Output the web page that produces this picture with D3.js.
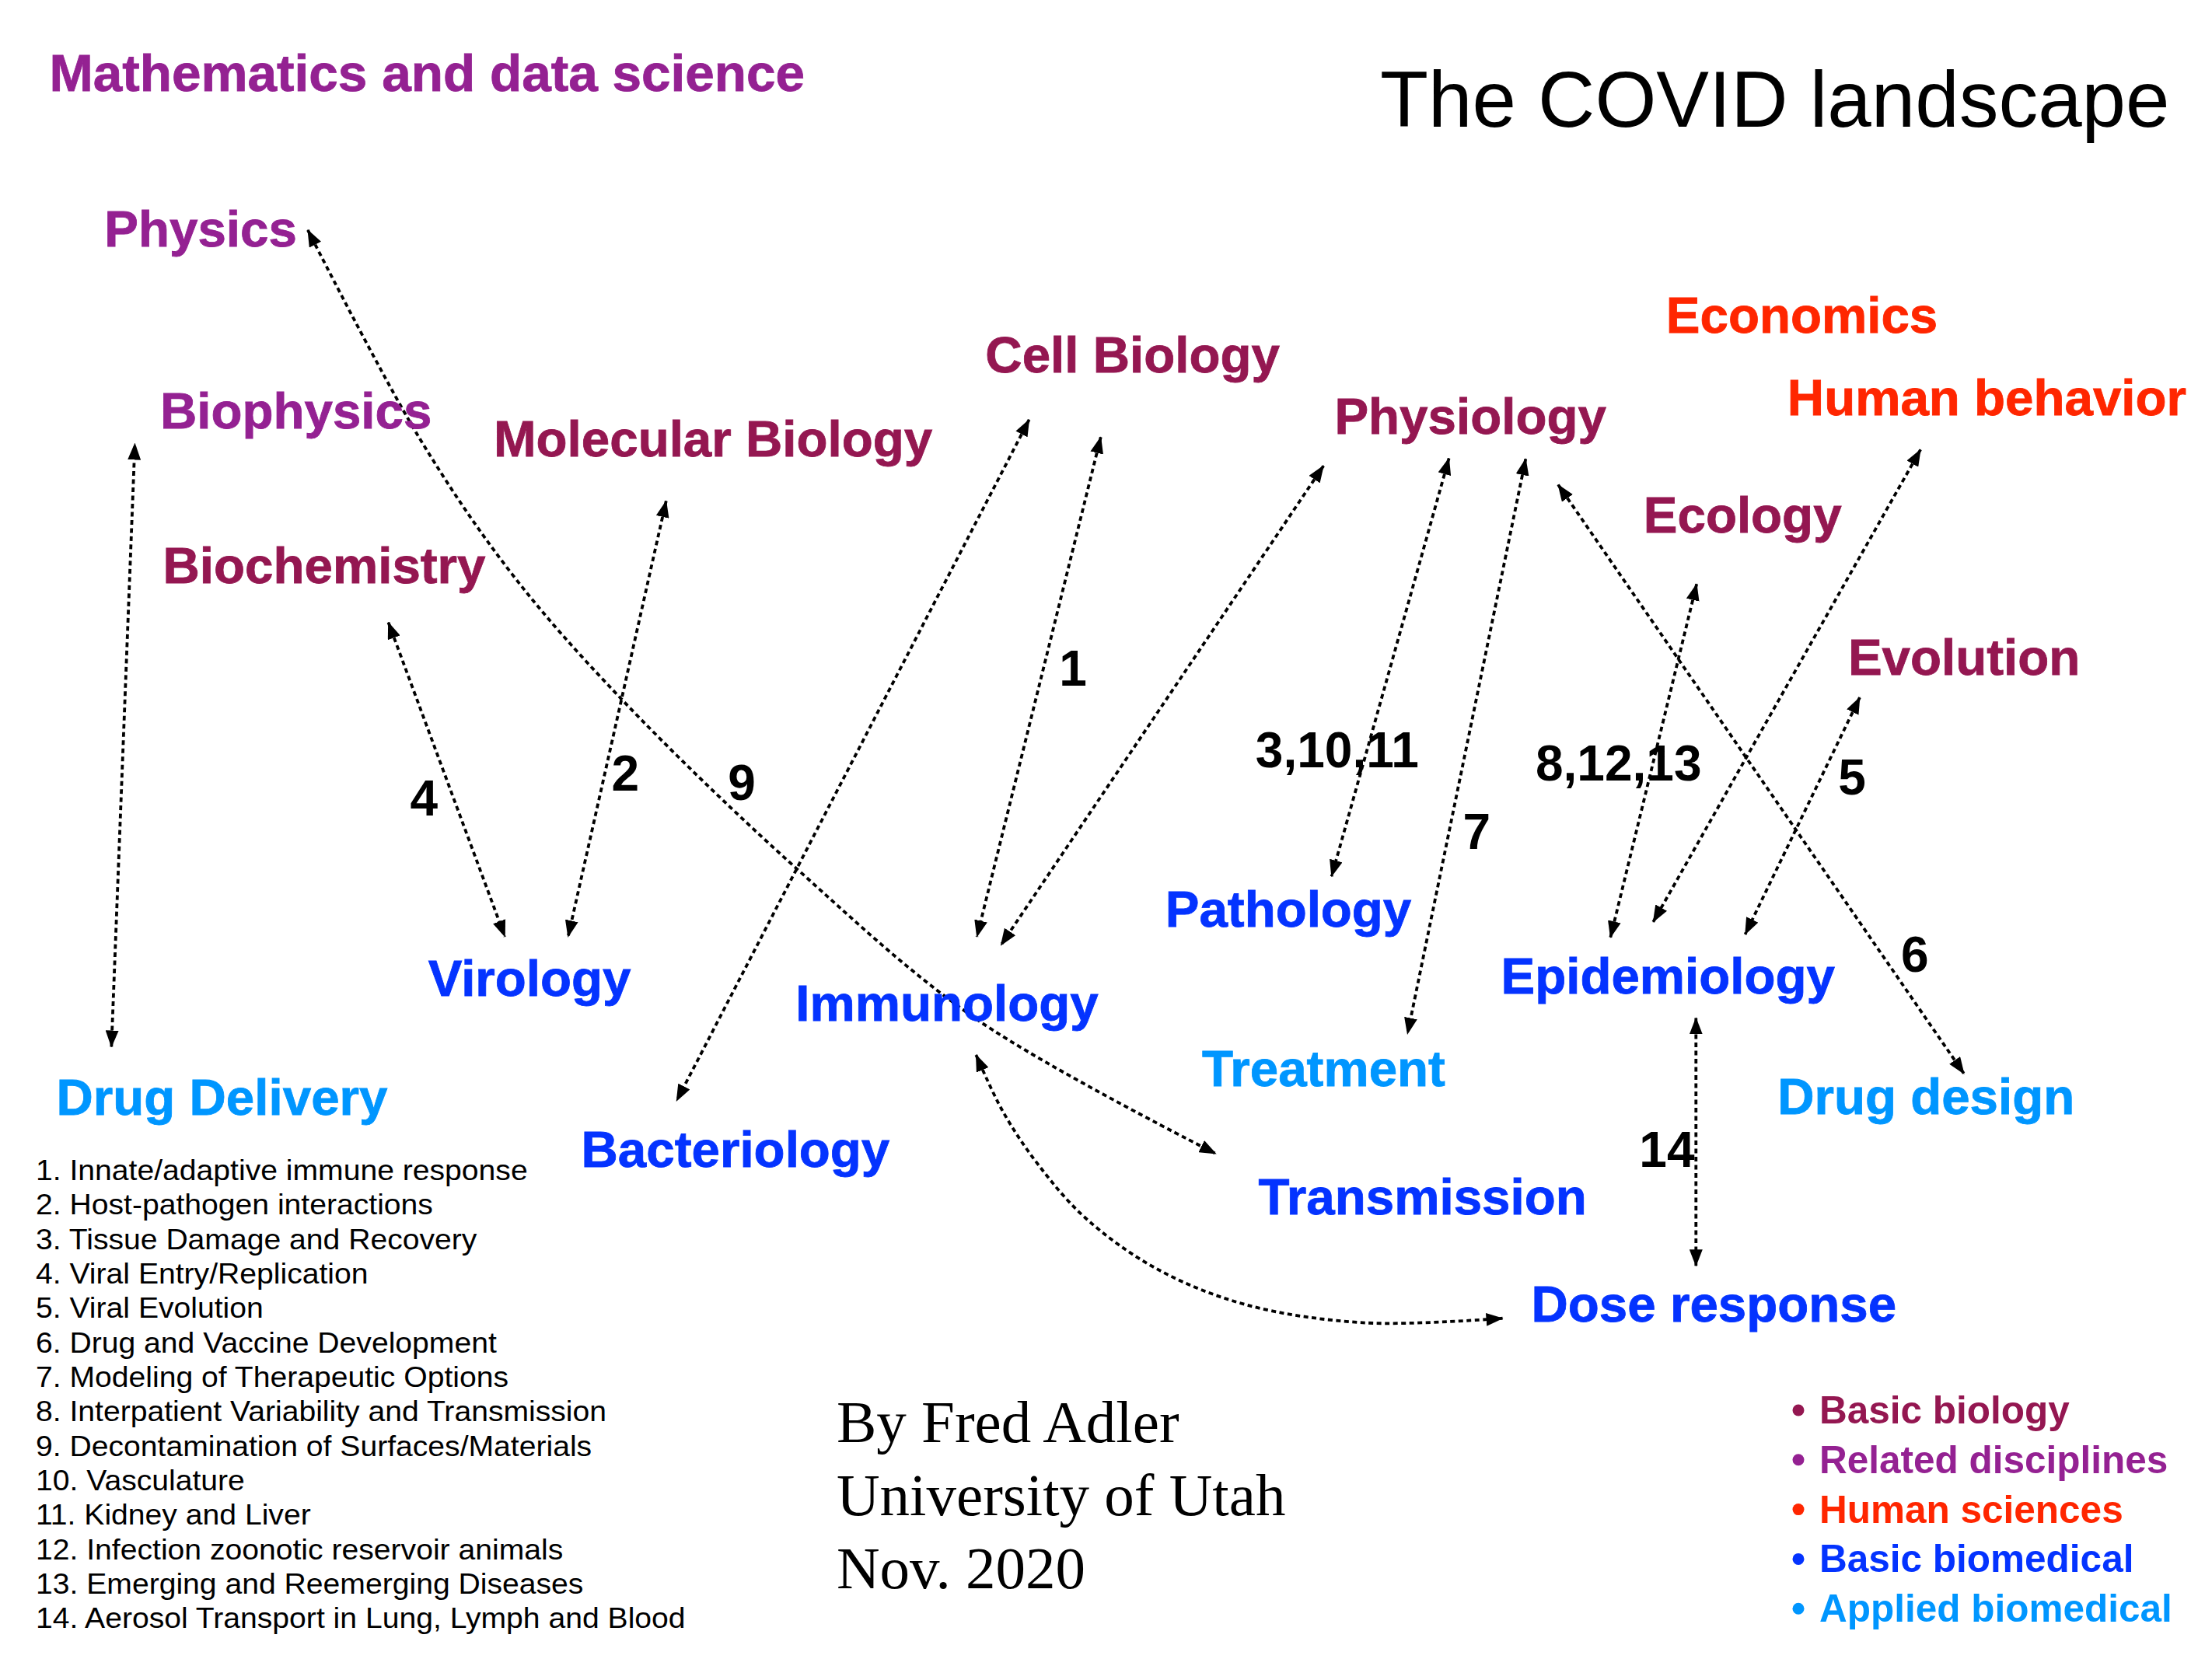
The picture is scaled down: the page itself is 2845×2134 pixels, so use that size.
<!DOCTYPE html>
<html>
<head>
<meta charset="utf-8">
<script src="https://cdn.jsdelivr.net/npm/d3@7"></script>
<style>
  html, body { margin: 0; padding: 0; background: #fff; }
  svg { display: block; }
</style>
</head>
<body>
<div id="chart"></div>
<script>
// groups / legend
const GROUPS = ["Basic biology", "Related disciplines", "Human sciences", "Basic biomedical", "Applied biomedical"];
const GROUP_COLORS = ["#941751", "#942192", "#FF2600", "#0433FF", "#0096FF"];

// topics: [name, group]
const TOPICS = [
  ["Mathematics and data science", "Related disciplines"],
  ["Physics", "Related disciplines"],
  ["Biophysics", "Related disciplines"],
  ["Biochemistry", "Basic biology"],
  ["Molecular Biology", "Basic biology"],
  ["Cell Biology", "Basic biology"],
  ["Physiology", "Basic biology"],
  ["Economics", "Human sciences"],
  ["Human behavior", "Human sciences"],
  ["Ecology", "Basic biology"],
  ["Evolution", "Basic biology"],
  ["Virology", "Basic biomedical"],
  ["Immunology", "Basic biomedical"],
  ["Pathology", "Basic biomedical"],
  ["Epidemiology", "Basic biomedical"],
  ["Treatment", "Applied biomedical"],
  ["Drug Delivery", "Applied biomedical"],
  ["Drug design", "Applied biomedical"],
  ["Bacteriology", "Basic biomedical"],
  ["Transmission", "Basic biomedical"],
  ["Dose response", "Basic biomedical"]
];

// where each topic sits on the map (layout units, left / baseline)
const TOPIC_XY = [
  [35, 64.3], [74, 174.5], [113.5, 303.7], [115.5, 413.4], [350, 323.5],
  [698.5, 264.2], [946, 307.7], [1181, 236.1], [1267, 294.3], [1165, 377.5],
  [1310, 478.6], [303.5, 705.7], [564, 723.3], [826, 657.1], [1064, 704.5],
  [852, 770], [40, 790], [1260, 789.7], [412, 827], [892, 860.7],
  [1085.5, 936.9]
];

// links: [from, to, label]
const LINKS = [
  ["Drug Delivery", "Biophysics", ""],
  ["Physics", "Transmission", "9"],
  ["Biochemistry", "Virology", "4"],
  ["Molecular Biology", "Virology", "2"],
  ["Cell Biology", "Bacteriology", ""],
  ["Cell Biology", "Immunology", "1"],
  ["Physiology", "Immunology", ""],
  ["Physiology", "Pathology", "3,10,11"],
  ["Physiology", "Treatment", "7"],
  ["Physiology", "Drug design", "6"],
  ["Ecology", "Epidemiology", "8,12,13"],
  ["Human behavior", "Epidemiology", ""],
  ["Evolution", "Epidemiology", "5"],
  ["Epidemiology", "Dose response", "14"],
  ["Immunology", "Dose response", ""]
];

// arrow routes for each link (layout units)
const LINK_ROUTES = [
  [[79, 742], [95.6, 314.4]],
  [[218.2, 163.1], [297, 310], [363, 407], [440, 495], [565, 616], [693, 723], [861.9, 817.8]],
  [[275.3, 441.2], [357.9, 664]],
  [[472.2, 355.1], [402.7, 664]],
  [[729.5, 297.5], [479.6, 780.4]],
  [[780.3, 309.8], [692.5, 664]],
  [[938.2, 330.2], [709.5, 670]],
  [[1027.1, 324.9], [943.9, 621.2]],
  [[1081.5, 325.3], [997.7, 733]],
  [[1104.5, 343.6], [1392.2, 761.1]],
  [[1202.7, 414], [1141.6, 664.5]],
  [[1361.4, 318.7], [1171.9, 653.5]],
  [[1318.3, 494.4], [1237.1, 662.3]],
  [[1202.2, 721.6], [1202.2, 897.3]],
  [[691.9, 747.8], [710.9, 787.9], [736.2, 825.9], [769.9, 863.8], [820.5, 899.7], [883.8, 925], [968.1, 937.7], [1065.1, 934.5]]
];

// link number label spots (left / baseline)
const LABEL_XY = [
  null, [516, 567], [290.7, 578.3], [433.5, 560.7], null, [750.8, 486], null,
  [890, 543.9], [1037, 601.9], [1347.5, 688.6], [1088.5, 553.3], null,
  [1303, 563.4], [1162, 827], null
];

const NOTES = [
  "1. Innate/adaptive immune response",
  "2. Host-pathogen interactions",
  "3. Tissue Damage and Recovery",
  "4. Viral Entry/Replication",
  "5. Viral Evolution",
  "6. Drug and Vaccine Development",
  "7. Modeling of Therapeutic Options",
  "8. Interpatient Variability and Transmission",
  "9. Decontamination of Surfaces/Materials",
  "10. Vasculature",
  "11. Kidney and Liver",
  "12. Infection zoonotic reservoir animals",
  "13. Emerging and Reemerging Diseases",
  "14. Aerosol Transport in Lung, Lymph and Blood"
];

const TITLE = "The COVID landscape";
const CREDITS = ["By Fred Adler", "University of Utah", "Nov. 2020"];

const width = 2845;
const height = 2134;

const x = d3.scaleLinear().domain([0, 1568]).range([0, width]);
const y = d3.scaleLinear().domain([0, 1176]).range([0, height]);
const color = d3.scaleOrdinal().domain(GROUPS).range(GROUP_COLORS);

const svg = d3.select("#chart").append("svg")
    .attr("width", width)
    .attr("height", height)
    .attr("viewBox", `0 0 ${width} ${height}`);

svg.append("rect").attr("width", width).attr("height", height).attr("fill", "#fff");

svg.append("defs").append("marker")
    .attr("id", "head")
    .attr("markerUnits", "userSpaceOnUse")
    .attr("viewBox", "0 0 22 17")
    .attr("markerWidth", 22)
    .attr("markerHeight", 17)
    .attr("refX", 21)
    .attr("refY", 8.5)
    .attr("orient", "auto-start-reverse")
    .append("path")
    .attr("d", "M0,0L22,8.5L0,17Z")
    .attr("fill", "#000");

// arrows
const line = d3.line()
    .x(d => x(d[0]))
    .y(d => y(d[1]))
    .curve(d3.curveCatmullRom.alpha(0.5));

svg.append("g").attr("class", "links")
  .selectAll("path")
  .data(LINKS.map((l, i) => ({ from: l[0], to: l[1], route: LINK_ROUTES[i] })))
  .join("path")
    .attr("d", d => line(d.route))
    .attr("fill", "none")
    .attr("stroke", "#000")
    .attr("stroke-width", 3.8)
    .attr("stroke-dasharray", "6,4.5")
    .attr("marker-start", "url(#head)")
    .attr("marker-end", "url(#head)");

// link numbers
svg.append("g").attr("class", "link-labels")
  .selectAll("text")
  .data(LINKS.map((l, i) => ({ text: l[2], pos: LABEL_XY[i] })).filter(d => d.text))
  .join("text")
    .attr("x", d => x(d.pos[0]))
    .attr("y", d => y(d.pos[1]))
    .style("font-family", "'Liberation Sans', Arial, Helvetica, sans-serif")
    .style("font-weight", "bold")
    .style("font-size", "64px")
    .attr("fill", "#000")
    .text(d => d.text);

// topics
svg.append("g").attr("class", "topics")
  .selectAll("text")
  .data(TOPICS.map((t, i) => ({ name: t[0], group: t[1], pos: TOPIC_XY[i] })))
  .join("text")
    .attr("x", d => x(d.pos[0]))
    .attr("y", d => y(d.pos[1]))
    .style("font-family", "'Liberation Sans', Arial, Helvetica, sans-serif")
    .style("font-weight", "bold")
    .style("font-size", d => d.name === "Mathematics and data science" ? "67.5px" : "65.5px")
    .attr("fill", d => color(d.group))
    .attr("stroke", d => color(d.group))
    .attr("stroke-width", 0.8)
    .text(d => d.name);

// title
svg.append("text")
    .attr("x", 1775)
    .attr("y", 163)
    .style("font-family", "'Liberation Sans', Arial, Helvetica, sans-serif")
    .style("font-size", "101.5px")
    .attr("fill", "#000")
    .text(TITLE);

// numbered notes
const notes = svg.append("g")
    .attr("class", "notes");

notes.selectAll("text")
  .data(NOTES)
  .join("text")
    .attr("x", 0)
    .attr("y", (d, i) => i * 44.33)
    .style("font-family", "'Liberation Sans', Arial, Helvetica, sans-serif")
    .style("font-size", "36px")
    .attr("fill", "#000")
    .text(d => d);

let widest = 0;
notes.selectAll("text").each(function() {
  widest = Math.max(widest, this.getComputedTextLength());
});
const kx = widest > 0 ? 836 / widest : 1;
notes.attr("transform", `translate(46, 1518) scale(${kx}, 1)`);

// credits
svg.append("g").attr("class", "credits")
  .selectAll("text")
  .data(CREDITS)
  .join("text")
    .attr("x", 1076)
    .attr("y", (d, i) => 1855 + i * 94)
    .style("font-family", "'Liberation Serif', 'Times New Roman', serif")
    .style("font-size", "77px")
    .attr("fill", "#000")
    .text(d => d);

// legend
const legend = svg.append("g")
    .attr("class", "legend")
    .attr("transform", "translate(2313, 1831)");

const item = legend.selectAll("g")
  .data(GROUPS)
  .join("g")
    .attr("transform", (d, i) => `translate(0, ${i * 63.8})`);

item.append("circle")
    .attr("cx", 0)
    .attr("cy", -17)
    .attr("r", 7.5)
    .attr("fill", d => color(d));

item.append("text")
    .attr("x", 27)
    .attr("y", 0)
    .style("font-family", "'Liberation Sans', Arial, Helvetica, sans-serif")
    .style("font-weight", "bold")
    .style("font-size", "49.5px")
    .attr("fill", d => color(d))
    .text(d => d);
</script>
</body>
</html>
